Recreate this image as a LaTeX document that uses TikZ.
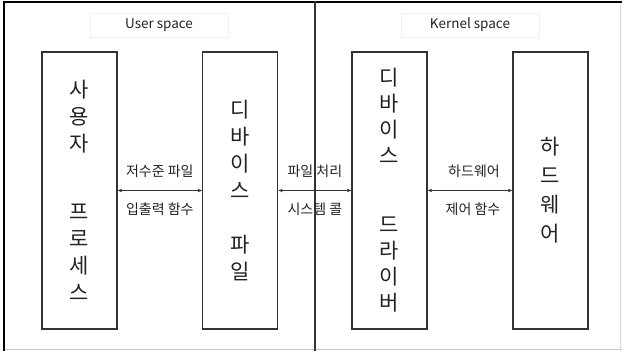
\documentclass[tikz,border=0pt]{standalone}
\usepackage{fontspec}
\setmainfont{Noto Sans CJK KR}
\usetikzlibrary{arrows.meta}
\definecolor{boxline}{HTML}{333333}
\definecolor{txt}{HTML}{222222}
\tikzset{
  unit box/.style={draw=boxline, line width=1.3pt, minimum width=75pt, minimum height=277pt,
    inner sep=0pt, align=center, text=txt, font=\fontsize{21}{27}\selectfont},
  arr/.style={{Stealth[length=4.5pt,width=3.5pt]}-{Stealth[length=4.5pt,width=3.5pt]}, line width=0.8pt, draw=boxline},
  lbl/.style={font=\fontsize{14}{16}\selectfont, text=txt, inner sep=0pt},
  space lbl/.style={draw=gray!12, line width=0.6pt, minimum width=138pt, minimum height=24pt,
    font=\fontsize{13.5}{15}\selectfont, text=txt, inner sep=0pt}
}
\begin{document}
\begin{tikzpicture}[x=1pt,y=-1pt]
\useasboundingbox (0,0) rectangle (622,351);
% outer frame
\draw[gray!45, line width=0.8pt] (622,349.5) -- (3,349.5);
\draw[gray!30, line width=0.8pt] (620,1) -- (620,351);
\draw[black, line width=2pt] (4,351) -- (4,1.5) -- (622,1.5);
% divider
\draw[boxline, line width=1.2pt] (315,1) -- (315,351);
% space labels
\node[space lbl] (us) at (159,25) {User space};
\node[space lbl] (ks) at (470,25) {Kernel space};
% boxes
\node[unit box] (b1) at (79.5,190.5) {사\\용\\자\\[41pt]프\\로\\세\\스};
\node[unit box] (b2) at (240.2,190.5) {디\\바\\이\\스\\[27pt]파\\일};
\node[unit box, font=\fontsize{21}{26}\selectfont] (b3) at (389.5,190.5) {디\\바\\이\\스\\[43pt]드\\라\\이\\버};
\node[unit box, font=\fontsize{21}{29}\selectfont] (b4) at (550.5,190.5) {하\\드\\웨\\어};
% connectors
\draw[arr] (b1.east) -- node[lbl, yshift=19pt] (l1a) {저수준 파일} node[lbl, yshift=-19pt] (l1b) {입출력 함수} (b2.west);
\draw[arr] (b2.east) -- node[lbl, yshift=19pt] (l2a) {파일 처리} node[lbl, yshift=-19pt] (l2b) {시스템 콜} (b3.west);
\draw[arr] (b3.east) -- node[lbl, yshift=19pt, xshift=4pt] (l3a) {하드웨어} node[lbl, yshift=-19pt, xshift=3pt] (l3b) {제어 함수} (b4.west);
\end{tikzpicture}
\end{document}
